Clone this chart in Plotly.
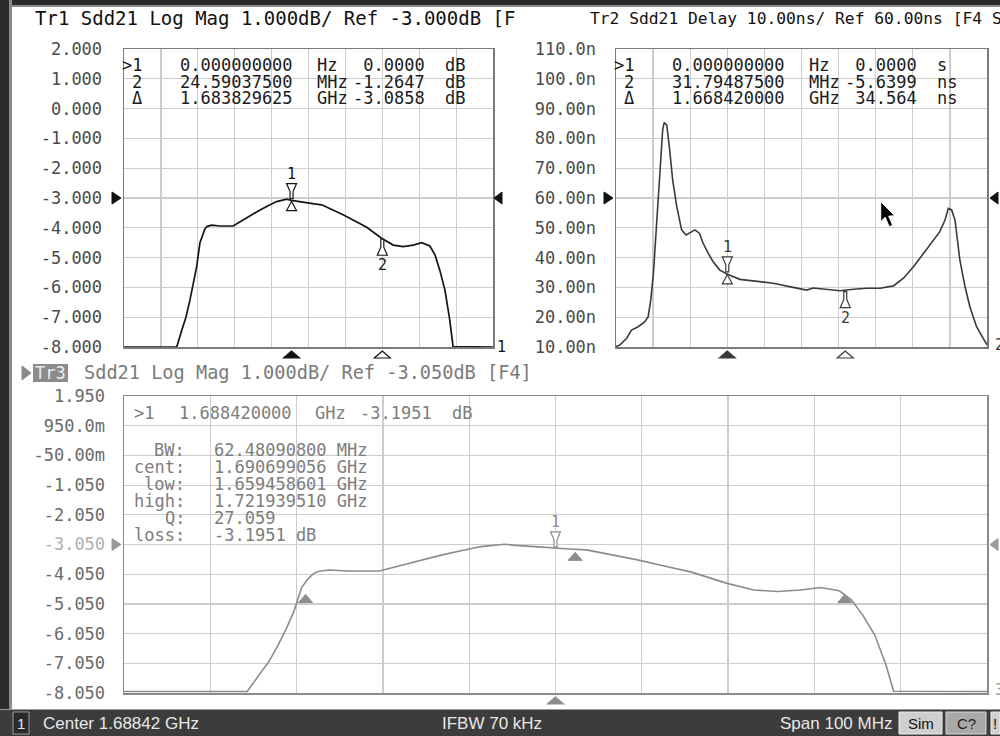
import plotly.graph_objects as go

W, H = 1000, 736
MONO = "DejaVu Sans Mono"
SANS = "Liberation Sans"

# ---------------- DATA ----------------
freq_start_mhz = 1638.42
freq_stop_mhz = 1738.42
freq_div_mhz = 10.0

# Sdd21 Log Mag (Tr1 and Tr3 show the same measurement)
mag_freq = [1638.42, 1652.7, 1654.1, 1655.2, 1656.3, 1657.2, 1658.1, 1659.0, 1659.7, 1660.4,
            1661.0, 1662.2, 1664.4, 1668.0, 1670.7, 1673.0, 1675.3, 1677.6, 1679.8, 1682.5,
            1683.8, 1686.0, 1687.9, 1690.0, 1692.0, 1695.1, 1697.8, 1700.5, 1704.2, 1708.2,
            1711.4, 1714.1, 1716.8, 1719.1, 1721.3, 1722.7, 1724.0, 1725.4, 1726.7, 1727.6,
            1738.42]
mag_db = [-8.0, -8.0, -7.43, -7.0, -6.42, -5.9, -5.31, -4.5, -4.22, -4.02,
          -3.95, -3.91, -3.94, -3.94, -3.74, -3.56, -3.40, -3.25, -3.12, -3.04,
          -3.08, -3.12, -3.17, -3.20, -3.23, -3.40, -3.56, -3.74, -3.98, -4.35,
          -4.58, -4.63, -4.58, -4.50, -4.61, -4.91, -5.42, -6.09, -7.09, -7.99,
          -8.0]

# Sdd21 group delay (Tr2), ns
delay_freq = [1638.42, 1639.5, 1641.3, 1642.6, 1644.4, 1646.2, 1647.1, 1647.8, 1648.5, 1649.4,
              1650.3, 1651.0, 1651.4, 1652.1, 1652.8, 1653.7, 1654.8, 1656.1, 1657.3, 1658.5,
              1659.7, 1660.9, 1661.9, 1663.3, 1664.6, 1666.4, 1668.3, 1671.8, 1677.2, 1680.8,
              1686.2, 1689.8, 1691.6, 1695.2, 1698.8, 1702.4, 1706.0, 1709.6, 1713.2, 1715.9,
              1718.6, 1721.3, 1724.0, 1725.7, 1727.1, 1728.0, 1728.9, 1729.8, 1731.1, 1732.5,
              1733.8, 1735.6, 1737.4, 1738.42]
delay_ns = [10.1, 10.7, 12.9, 15.7, 16.8, 18.5, 20.2, 25.8, 34.7, 52.6,
            71.6, 82.8, 85.3, 84.5, 77.2, 66.0, 57.1, 49.3, 47.6, 48.4,
            49.3, 48.2, 44.8, 41.4, 38.6, 35.8, 34.5, 32.7, 31.9, 31.4,
            30.0, 29.1, 29.8, 29.4, 28.9, 29.4, 29.7, 29.7, 30.5, 33.1,
            36.9, 41.4, 45.9, 48.7, 52.6, 56.5, 56.0, 52.6, 39.2, 30.2,
            23.5, 16.8, 12.9, 10.7]

tr1_tickvals = [2, 1, 0, -1, -2, -3, -4, -5, -6, -7, -8]
tr1_ticktext = ["2.000", "1.000", "0.000", "-1.000", "-2.000", "-3.000", "-4.000",
                "-5.000", "-6.000", "-7.000", "-8.000"]
tr1_ref = -3.0
tr2_tickvals = [110, 100, 90, 80, 70, 60, 50, 40, 30, 20, 10]
tr2_ticktext = ["110.0n", "100.0n", "90.00n", "80.00n", "70.00n", "60.00n", "50.00n",
                "40.00n", "30.00n", "20.00n", "10.00n"]
tr2_ref = 60.0
tr3_tickvals = [1.95, 0.95, -0.05, -1.05, -2.05, -3.05, -4.05, -5.05, -6.05, -7.05, -8.05]
tr3_ticktext = ["1.950", "950.0m", "-50.00m", "-1.050", "-2.050",
                '<span style="color:#b0b0b0">-3.050</span>', "-4.050", "-5.050",
                "-6.050", "-7.050", "-8.050"]
tr3_ref = -3.05

tr1_marker_freq = [1683.829625, 1708.420000]
tr1_marker_db = [-3.0858, -4.3505]
tr2_marker_freq = [1668.420000, 1700.214875]
tr2_marker_ns = [34.564, 28.9241]
tr3_marker_freq = [1688.420000]
tr3_marker_db = [-3.1951]
bw_freq = [1659.458601, 1690.699056, 1721.939510]
bw_db = [-4.70, -3.28, -4.70]

tr1_table = [(">1", "0.000000000", "Hz", " 0.0000", "dB"),
             ("2", "24.59037500", "MHz", "-1.2647", "dB"),
             ("Δ", "1.683829625", "GHz", "-3.0858", "dB")]
tr2_table = [(">1", "0.000000000", "Hz", " 0.0000", "s"),
             ("2", "31.79487500", "MHz", "-5.6399", "ns"),
             ("Δ", "1.668420000", "GHz", " 34.564", "ns")]
tr3_marker_row = (">1", "1.688420000", "GHz", "-3.1951", "dB")
tr3_bw_rows = [("BW:", "62.48090800 MHz"), ("cent:", "1.690699056 GHz"),
               ("low:", "1.659458601 GHz"), ("high:", "1.721939510 GHz"),
               ("Q:", "27.059"), ("loss:", "-3.1951 dB")]

title1 = "Tr1 Sdd21 Log Mag 1.000dB/ Ref -3.000dB [F"
title2 = "Tr2 Sdd21 Delay 10.00ns/ Ref 60.00ns [F4 S"
title3 = "Sdd21 Log Mag 1.000dB/ Ref -3.050dB [F4]"
status_center = "Center 1.68842 GHz"
status_ifbw = "IFBW 70 kHz"
status_span = "Span 100 MHz"

# ---------------- STYLE ----------------
C1, C2, C3 = "#141414", "#3a3a3a", "#8c8c8c"
GRID = "#cdcdcd"
FRAME = "#7a7a7a"

def px(x):
    return x / W

def py(y):
    return 1 - y / H

fig = go.Figure()
fig.add_trace(go.Scatter(x=mag_freq, y=mag_db, mode="lines", line=dict(color=C1, width=1.7),
                         xaxis="x", yaxis="y", hoverinfo="skip"))
fig.add_trace(go.Scatter(x=delay_freq, y=delay_ns, mode="lines", line=dict(color=C2, width=1.6),
                         xaxis="x2", yaxis="y2", hoverinfo="skip"))
fig.add_trace(go.Scatter(x=mag_freq, y=mag_db, mode="lines", line=dict(color=C3, width=1.6),
                         xaxis="x3", yaxis="y3", hoverinfo="skip"))

def xax(domain, anchor, linecolor=FRAME):
    return dict(domain=domain, anchor=anchor, range=[freq_start_mhz, freq_stop_mhz],
                tick0=freq_start_mhz, dtick=freq_div_mhz, showgrid=True, gridcolor=GRID,
                gridwidth=1.2, showticklabels=False, ticks="", zeroline=False, showline=True,
                linecolor=linecolor, linewidth=1.5, mirror=True, fixedrange=True,
                automargin=False)

def yax(domain, anchor, rng, vals, text, color, standoff, linecolor=FRAME):
    return dict(domain=domain, anchor=anchor, range=rng, tickmode="array", tickvals=vals,
                ticktext=text, showgrid=True, gridcolor=GRID, gridwidth=1.2, zeroline=False,
                showline=True, linecolor=linecolor, linewidth=1.5, mirror=True, ticks="",
                ticklabelstandoff=standoff, tickfont=dict(family=MONO, size=17, color=color),
                fixedrange=True, automargin=False)

top_dom = [py(347), py(49)]
bot_dom = [py(693), py(396)]

shapes = []
annotations = []

def ann(x, y, text, size=17, color="#000", xanchor="left", yanchor="middle",
        xref="paper", yref="paper", family=MONO, **kw):
    annotations.append(dict(x=x, y=y, xref=xref, yref=yref, text=text, showarrow=False,
                            xanchor=xanchor, yanchor=yanchor,
                            font=dict(family=family, size=size, color=color), **kw))

def pshape(xref, yref, xa, ya, path, line, fill, width=1.0):
    shapes.append(dict(type="path", xref=xref, yref=yref, xsizemode="pixel",
                       ysizemode="pixel", xanchor=xa, yanchor=ya, path=path,
                       line=dict(color=line, width=width), fillcolor=fill, layer="above"))

def rect(x0, y0, x1, y1, fill, line=None):
    shapes.append(dict(type="rect", xref="paper", yref="paper", x0=px(x0), x1=px(x1),
                       y0=py(y1), y1=py(y0), fillcolor=fill,
                       line=dict(color=line or fill, width=1 if line else 0), layer="above"))

# frame decorations (window border)
rect(0, 0, 1000, 5, "#2a2a2a")
rect(0, 5, 1000, 7, "#8a8a8a")
rect(0, 0, 9, 710, "#2a2a2a")
rect(9, 0, 12, 710, "#8a8a8a")

# titles
ann(px(33), py(18), title1, size=19, color="#111")
ann(px(588), py(18), title2, size=16.3, color="#111")
pshape("paper", "paper", px(22), py(373), "M 0 7 L 0 -7 L 9 0 Z", "#8a8a8a", "#8a8a8a")
rect(33, 364, 68, 382, "#8c8c8c")
ann(px(50.5), py(373), "Tr3", size=17, color="#ececec", xanchor="center")
ann(px(82), py(373), title3, size=18.6, color="#7a7a7a")

# marker tables
def table(L, rows, ys, color):
    for (mid, num, unit, val, unit2), y in zip(rows, ys):
        ann(px(L + 20), py(y), mid, color=color, xanchor="right")
        ann(px(L + 54), py(y), num, color=color)
        ann(px(L + 191), py(y), unit, color=color)
        ann(px(L + 227), py(y), val.replace(" ", "&nbsp;"), color=color)
        ann(px(L + 319), py(y), unit2, color=color)

table(124, tr1_table, [65, 82, 98], "#1a1a1a")
table(616, tr2_table, [65, 82, 98], "#1a1a1a")

T3 = "#7d7d7d"
mid, num, unit, val, unit2 = tr3_marker_row
ann(px(132), py(413), mid, color=T3)
ann(px(177), py(413), num, color=T3)
ann(px(313), py(413), unit, color=T3)
ann(px(358), py(413), val, color=T3)
ann(px(450), py(413), unit2, color=T3)
for (lab, txt), y in zip(tr3_bw_rows, [450, 467, 484, 501, 518, 535]):
    ann(px(187), py(y), lab, color=T3, xanchor="right")
    ann(px(212), py(y), txt, color=T3)

# reference level arrows
def ref_arrows(xr, yr, ref, color, right_off):
    pshape(xr + " domain", yr, 0, ref, "M -12 6 L -12 -6 L -3 0 Z", color, color)
    pshape(xr + " domain", yr, 1, ref, f"M {right_off} 0 L {right_off+8} 6 L {right_off+8} -6 Z",
           color, color)

ref_arrows("x", "y", tr1_ref, "#111", 1)
ref_arrows("x2", "y2", tr2_ref, "#111", 3)
ref_arrows("x3", "y3", tr3_ref, "#9a9a9a", 3)

# markers on traces
M_TOP = "M -5 17 L 5 17 L 1.5 9 L 1.5 2 L -1.5 2 L -1.5 9 Z"
M_LOW_SMALL = "M 0 -1 L -5 -10 L 5 -10 Z"
M_LOW_TALL = "M -1.5 -1 L 1.5 -1 L 1.5 -9 L 5 -17 L -5 -17 L -1.5 -9 Z"

def markers(xr, yr, f, v, color, with_low=True):
    pshape(xr, yr, f[0], v[0], M_TOP, color, "white", 1.2)
    if with_low:
        pshape(xr, yr, f[0], v[0], M_LOW_SMALL, color, "white", 1.2)
    ann(f[0], v[0], "1", size=15, color=color, xanchor="center", xref=xr, yref=yr, yshift=27)
    for k in range(1, len(f)):
        pshape(xr, yr, f[k], v[k], M_LOW_TALL, color, "white", 1.2)
        ann(f[k], v[k], str(k + 1), size=15, color=color, xanchor="center", xref=xr, yref=yr,
            yshift=-27)
    # stimulus triangles below the x axis
    for k in range(len(f)):
        fill = color if k == 0 else "white"
        pshape(xr, yr + " domain", f[k], 0, "M 0 -4 L -8 -11 L 8 -11 Z", color, fill, 1.2)

markers("x", "y", tr1_marker_freq, tr1_marker_db, C1)
markers("x2", "y2", tr2_marker_freq, tr2_marker_ns, C2)
markers("x3", "y3", tr3_marker_freq, tr3_marker_db, C3, with_low=False)
for f, v in zip(bw_freq, bw_db):
    pshape("x3", "y3", f, v, "M 0 -1 L -7 -9 L 7 -9 Z", C3, C3, 1)

# channel numbers
ann(px(495), py(347), "1", size=15, color="#111")
ann(px(993), py(345), "2", size=15, color="#333")
ann(px(993), py(690), "3", size=15, color="#999")

# mouse cursor
pshape("paper", "paper", px(880.7), py(201.7),
       "M 0 0 L 0 -20 L 4.5 -15.5 L 8.5 -25 L 12 -23.5 L 8 -14.5 L 14 -14 Z",
       "white", "black", 1)

# status bar
rect(0, 709, 1000, 736, "#3c3c3c")
rect(0, 709, 1000, 710, "#9a9a9a")
rect(13, 712, 29, 734, "#2a2a2a", "#9a9a9a")
ann(px(21), py(723), "1", size=15, color="#e8e8e8", xanchor="center", family=SANS)
ann(px(41), py(723), status_center, size=17, color="#e8e8e8", family=SANS)
ann(px(440), py(723), status_ifbw, size=17, color="#e8e8e8", family=SANS)
ann(px(778), py(723), status_span, size=17, color="#e8e8e8", family=SANS)
rect(899, 712, 942, 734, "#cfcfcf", "#eeeeee")
ann(px(920.5), py(723), "Sim", size=15, color="#111", xanchor="center", family=SANS)
rect(946, 712, 986, 734, "#a9a9a9", "#d8d8d8")
ann(px(966), py(723), "C?", size=15, color="#222", xanchor="center", family=SANS)
rect(991, 712, 1000, 734, "#cfcfcf", "#eeeeee")
ann(px(995), py(723), "!", size=15, color="#111", xanchor="center", family=SANS)

fig.update_layout(
    template="none",
    width=W, height=H, autosize=False,
    margin=dict(l=0, r=0, t=0, b=0, pad=0),
    paper_bgcolor="white", plot_bgcolor="white",
    showlegend=False,
    xaxis=xax([px(124), px(493)], "y"),
    yaxis=yax(top_dom, "x", [-8, 2], tr1_tickvals, tr1_ticktext, "#4a4a4a", 17),
    xaxis2=xax([px(616), px(987)], "y2"),
    yaxis2=yax(top_dom, "x2", [10, 110], tr2_tickvals, tr2_ticktext, "#4a4a4a", 15),
    xaxis3=xax([px(124), px(987)], "y3", "#8a8a8a"),
    yaxis3=yax(bot_dom, "x3", [-8.05, 1.95], tr3_tickvals, tr3_ticktext, "#6a6a6a", 14,
               "#8a8a8a"),
    shapes=shapes,
    annotations=annotations,
)

fig.write_html("out.html", config={"displayModeBar": False, "staticPlot": True},
               post_script="document.body.style.margin='0';document.body.style.padding='0';"
                           "document.body.style.overflow='hidden';")
